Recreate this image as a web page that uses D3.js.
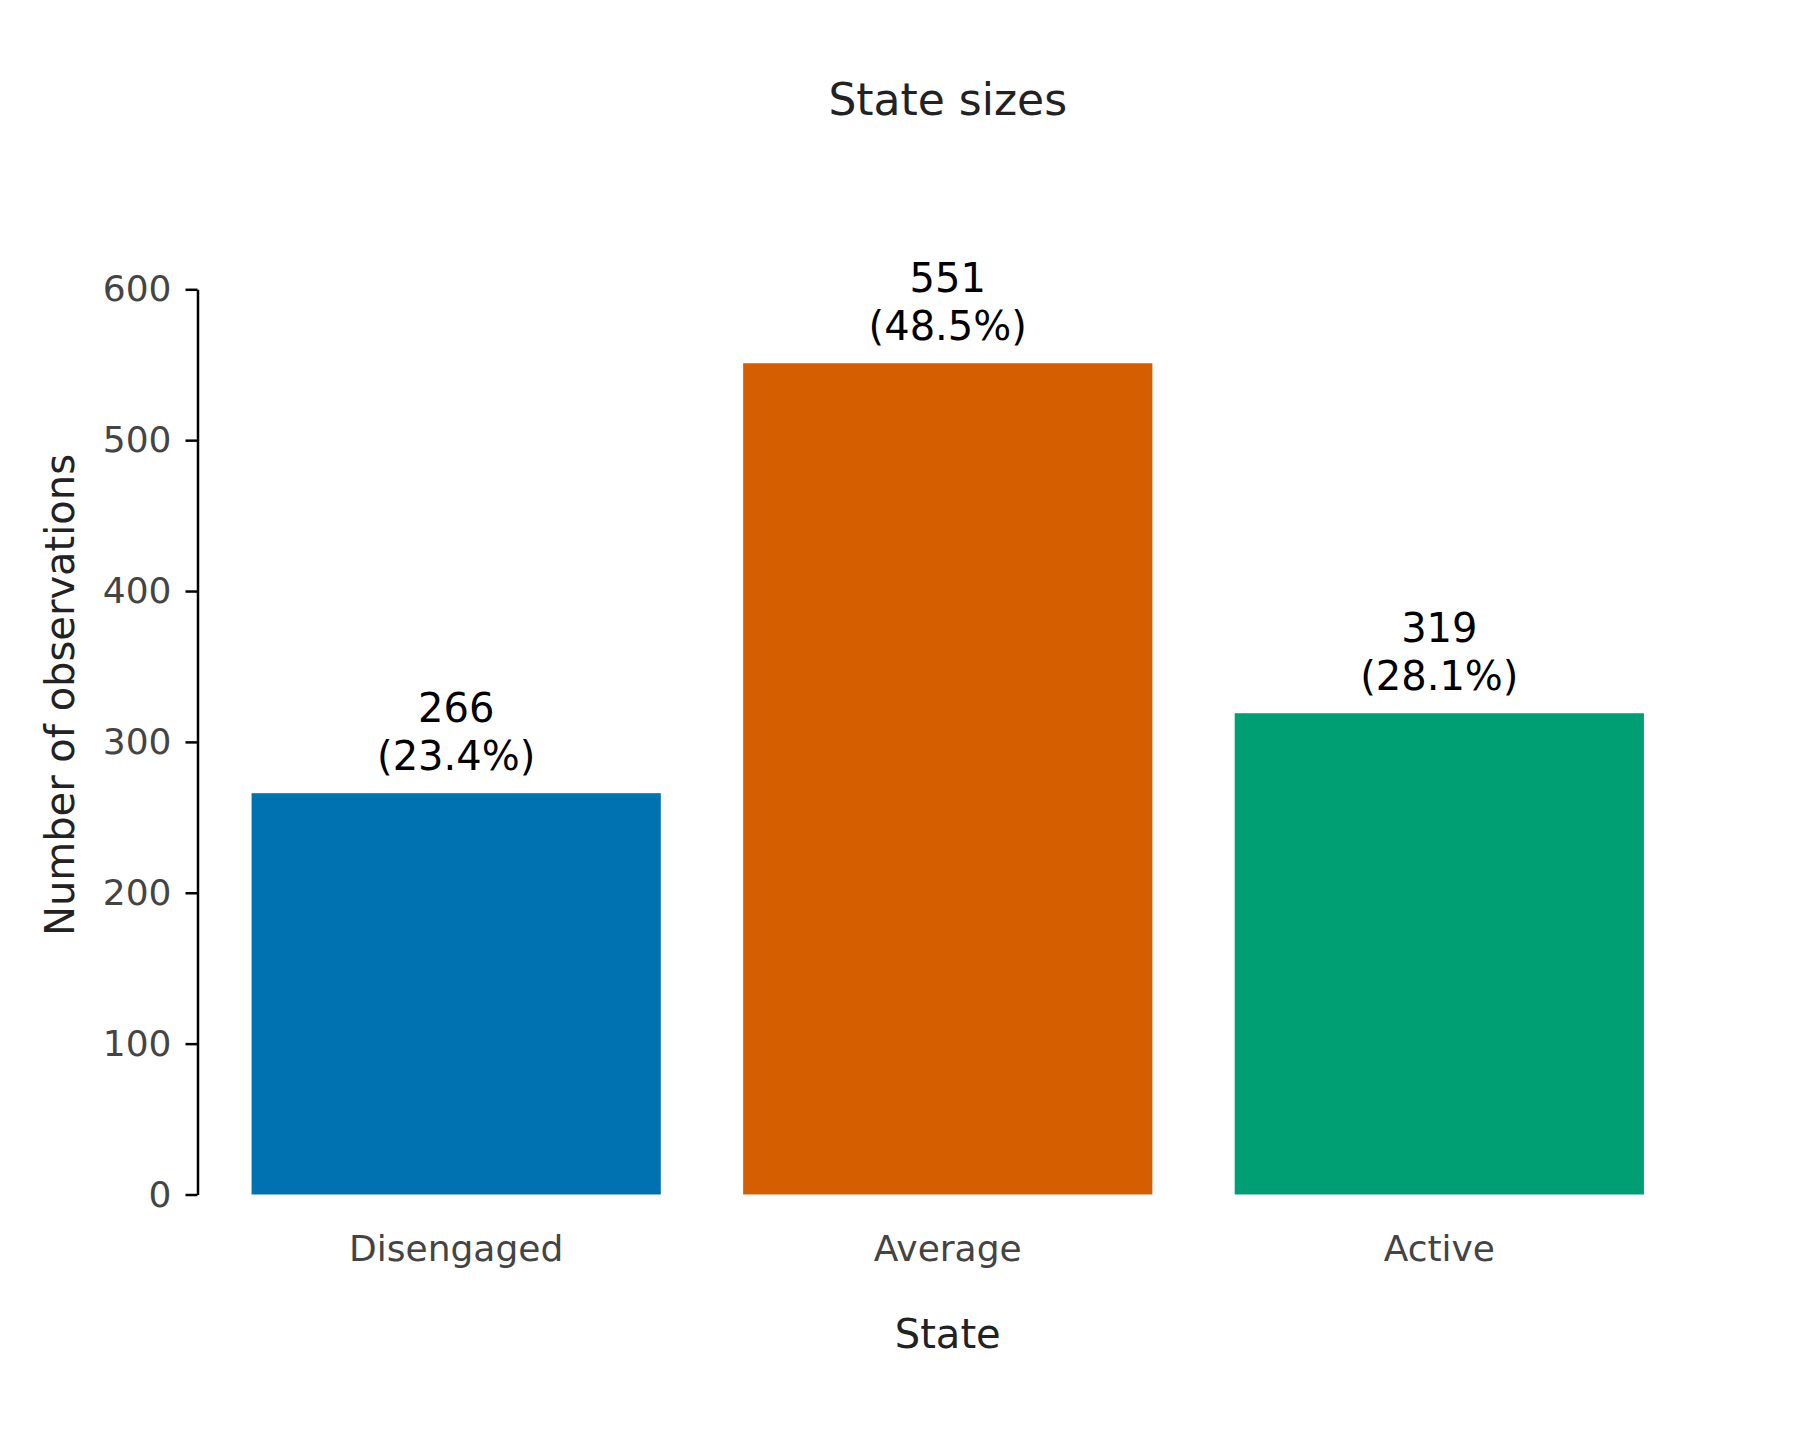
<!DOCTYPE html>
<html>
<head>
<meta charset="utf-8">
<script src="https://cdn.jsdelivr.net/npm/d3@7"></script>
<style>
  html, body { margin: 0; padding: 0; background: #fff; }
  svg { display: block; font-family: "DejaVu Sans", sans-serif; }
</style>
</head>
<body>
<svg id="chart" width="1800" height="1440"></svg>
<script>
const categories = ["Disengaged", "Average", "Active"];
const counts = [266, 551, 319];
const percentLabels = ["23.4%", "48.5%", "28.1%"];
const barColors = ["#0072B2", "#D55E00", "#009E73"];
const yTicks = [0, 100, 200, 300, 400, 500, 600];

(function () {
const svg = d3.select("#chart");
const pLeft = 197.5, pRight = 1698, pTop = 289.3, pBottom = 1194.5;

const x = d3.scaleBand().domain(categories).range([pLeft, pRight])
  .paddingInner(0.1675).paddingOuter(0.11);
const y = d3.scaleLinear().domain([0, 600]).range([pBottom, pTop]);

// bars
svg.append("g").selectAll("rect").data(categories).join("rect")
  .attr("x", d => x(d))
  .attr("width", x.bandwidth())
  .attr("y", (d, i) => y(counts[i]))
  .attr("height", (d, i) => y(0) - y(counts[i]))
  .attr("fill", (d, i) => barColors[i]);

// y axis
const yAxis = svg.append("g").attr("transform", `translate(${pLeft},0)`)
  .call(d3.axisLeft(y).tickValues(yTicks).tickSize(12).tickPadding(14).tickSizeOuter(0));
yAxis.select(".domain").attr("stroke", "#000").attr("stroke-width", 2.5);
yAxis.selectAll(".tick line").attr("stroke", "#000").attr("stroke-width", 2.5);
yAxis.selectAll(".tick text").attr("font-size", 36).attr("fill", "#444")
  .attr("font-family", "DejaVu Sans");

// x axis (labels only)
const xAxis = svg.append("g").attr("transform", `translate(0,${pBottom})`)
  .call(d3.axisBottom(x).tickSize(0).tickPadding(41));
xAxis.select(".domain").remove();
xAxis.selectAll(".tick text").attr("font-size", 36).attr("fill", "#444")
  .attr("font-family", "DejaVu Sans");

// value labels
const lbl = svg.append("g").selectAll("text").data(categories).join("text")
  .attr("x", d => x(d) + x.bandwidth() / 2)
  .attr("text-anchor", "middle")
  .attr("font-size", 40)
  .attr("fill", "#000");
lbl.append("tspan").attr("x", d => x(d) + x.bandwidth() / 2)
  .attr("y", (d, i) => y(counts[i]) - 71)
  .text((d, i) => counts[i]);
lbl.append("tspan").attr("x", d => x(d) + x.bandwidth() / 2)
  .attr("y", (d, i) => y(counts[i]) - 23)
  .text((d, i) => `(${percentLabels[i]})`);

// title
svg.append("text").attr("x", (pLeft + pRight) / 2).attr("y", 115)
  .attr("text-anchor", "middle").attr("font-size", 44).attr("fill", "#222")
  .text("State sizes");

// axis titles
svg.append("text").attr("x", (pLeft + pRight) / 2).attr("y", 1348)
  .attr("text-anchor", "middle").attr("font-size", 40).attr("fill", "#222")
  .text("State");
svg.append("text")
  .attr("transform", `translate(74,695) rotate(-90)`)
  .attr("text-anchor", "middle").attr("font-size", 40).attr("fill", "#222")
  .text("Number of observations");
})();
</script>
</body>
</html>
